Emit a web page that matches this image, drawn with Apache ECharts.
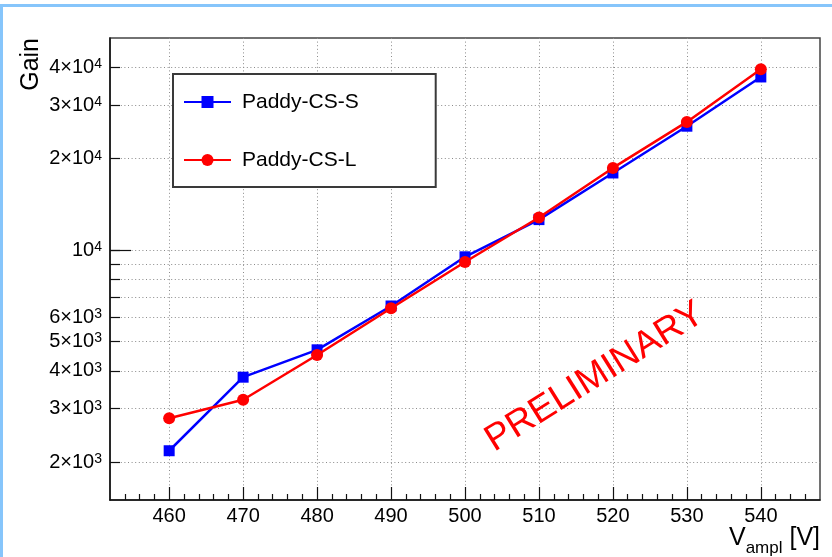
<!DOCTYPE html>
<html>
<head>
<meta charset="utf-8">
<script src="https://cdn.jsdelivr.net/npm/echarts@6/dist/echarts.min.js"></script>
<style>
  html, body { margin: 0; padding: 0; background: #fff; }
  #chart { width: 832px; height: 557px; }
</style>
</head>
<body>
<div id="chart"></div>
<script>
// Amplification voltage scan: gain of two Paddy micromegas prototypes
const voltages = [460, 470, 480, 490, 500, 510, 520, 530, 540];
const gainS = [2180, 3810, 4690, 6540, 9500, 12600, 17950, 25600, 37200];
const gainL = [2790, 3210, 4510, 6430, 9130, 12800, 18650, 26450, 39450];

// Axis ticks and labels
const xMajorTicks = [460, 470, 480, 490, 500, 510, 520, 530, 540];
const xMinorTicks = [454, 456, 458, 462, 464, 466, 468, 472, 474, 476, 478, 482, 484, 486, 488,
  492, 494, 496, 498, 502, 504, 506, 508, 512, 514, 516, 518, 522, 524, 526, 528,
  532, 534, 536, 538, 542, 544, 546];
const yTicks = [2000, 3000, 4000, 5000, 6000, 7000, 8000, 9000, 10000, 20000, 30000, 40000];
const yLabels = [2000, 3000, 4000, 5000, 6000, 10000, 20000, 30000, 40000];
const yMajorTicks = [10000];

const FONT = '"Liberation Sans", Arial, Helvetica, sans-serif';
const X_MIN = 452, X_MAX = 548;
const Y_MIN = 1500, Y_MAX = 50000;

function powerLabel(v) {
  const exp = Math.floor(Math.log10(v) + 1e-9);
  const m = Math.round(v / Math.pow(10, exp));
  return (m === 1 ? '{b|10}' : '{b|' + m + '\u00d710}') + '{s|' + exp + '}';
}

const chart = echarts.init(document.getElementById('chart'), null, { renderer: 'canvas' });

const dotted = { color: '#8a8a8a', width: 1, type: [1, 2.6] };

chart.setOption({
  animation: false,
  backgroundColor: '#fff',
  grid: {
    left: 110, top: 38, right: 12, bottom: 57,
    show: true, borderColor: '#444', borderWidth: 1.5,
    containLabel: false, outerBoundsMode: 'none'
  },
  legend: {
    left: 173, top: 74, orient: 'vertical',
    data: ['Paddy-CS-S', 'Paddy-CS-L'],
    itemWidth: 47, itemHeight: 15, itemGap: 34,
    padding: [16, 77, 15, 10],
    backgroundColor: '#fff', borderColor: '#3a3a3a', borderWidth: 2,
    textStyle: { fontFamily: FONT, fontSize: 21, color: '#000', lineHeight: 24, padding: [0, 0, 0, 6] }
  },
  xAxis: [{
    type: 'value', min: X_MIN, max: X_MAX,
    name: '{v|V}{s|ampl}{v| [V]}',
    nameLocation: 'end', nameGap: 0, nameMoveOverlap: false,
    nameTextStyle: {
      align: 'right', verticalAlign: 'top', padding: [26, 0, 0, 0],
      rich: {
        v: { fontFamily: FONT, fontSize: 25, color: '#000', lineHeight: 26, verticalAlign: 'top' },
        s: { fontFamily: FONT, fontSize: 17, color: '#000', lineHeight: 17, padding: [14, 0, 0, 0], verticalAlign: 'top' }
      }
    },
    axisLine: { show: true, lineStyle: { color: '#111', width: 1.5 } },
    axisTick: { show: true, inside: true, length: 13, customValues: xMajorTicks, lineStyle: { color: '#111', width: 1.2 } },
    axisLabel: { customValues: xMajorTicks, margin: 6, fontFamily: FONT, fontSize: 20, color: '#000' },
    splitLine: { show: true, lineStyle: dotted }
  }, {
    type: 'value', min: X_MIN, max: X_MAX, position: 'bottom',
    axisLine: { show: false },
    axisTick: { show: true, inside: true, length: 6, customValues: xMinorTicks, lineStyle: { color: '#111', width: 1.2 } },
    axisLabel: { show: false },
    splitLine: { show: false }
  }],
  yAxis: [{
    type: 'log', logBase: 10, min: Y_MIN, max: Y_MAX,
    name: 'Gain',
    nameLocation: 'end', nameGap: 0, nameRotate: 90, nameMoveOverlap: false,
    nameTextStyle: { fontFamily: FONT, fontSize: 25, color: '#000', align: 'right', verticalAlign: 'bottom', padding: [0, 0, 66, 0] },
    axisLine: { show: true, lineStyle: { color: '#111', width: 1.5 } },
    axisTick: { show: true, inside: true, length: 10, customValues: yTicks, lineStyle: { color: '#111', width: 1.2 } },
    axisLabel: {
      customValues: yLabels, margin: 8,
      formatter: powerLabel,
      rich: {
        b: { fontFamily: FONT, fontSize: 20, color: '#000', lineHeight: 20, padding: [6, 0, 0, 0], verticalAlign: 'bottom' },
        s: { fontFamily: FONT, fontSize: 14, color: '#000', lineHeight: 14, verticalAlign: 'top' }
      }
    },
    splitLine: { show: true, lineStyle: dotted }
  }, {
    type: 'log', logBase: 10, min: Y_MIN, max: Y_MAX, position: 'left',
    axisLine: { show: false },
    axisTick: { show: true, inside: true, length: 21, customValues: yMajorTicks, lineStyle: { color: '#111', width: 1.2 } },
    axisLabel: { show: false },
    splitLine: { show: false }
  }],
  series: [{
    name: 'Paddy-CS-S', type: 'line',
    data: voltages.map((v, i) => [v, gainS[i]]),
    symbol: 'rect', symbolSize: 11,
    itemStyle: { color: '#0000ff' },
    lineStyle: { color: '#0000ff', width: 2.5 },
    z: 3
  }, {
    name: 'Paddy-CS-L', type: 'line',
    data: voltages.map((v, i) => [v, gainL[i]]),
    symbol: 'circle', symbolSize: 12,
    itemStyle: { color: '#ff0000' },
    lineStyle: { color: '#ff0000', width: 2.5 },
    z: 4
  }],
  graphic: [
    { type: 'rect', left: 0, top: 4, shape: { width: 832, height: 3 }, style: { fill: '#86c5fb' }, silent: true },
    { type: 'rect', left: 0, top: 4, shape: { width: 3, height: 553 }, style: { fill: '#86c5fb' }, silent: true },
    {
      type: 'text', x: 595, y: 377, rotation: 32 * Math.PI / 180, z: 10,
      style: { text: 'PRELIMINARY', fill: '#ff0000', font: '37px ' + FONT, align: 'center', verticalAlign: 'middle' }
    }
  ]
});
</script>
</body>
</html>
